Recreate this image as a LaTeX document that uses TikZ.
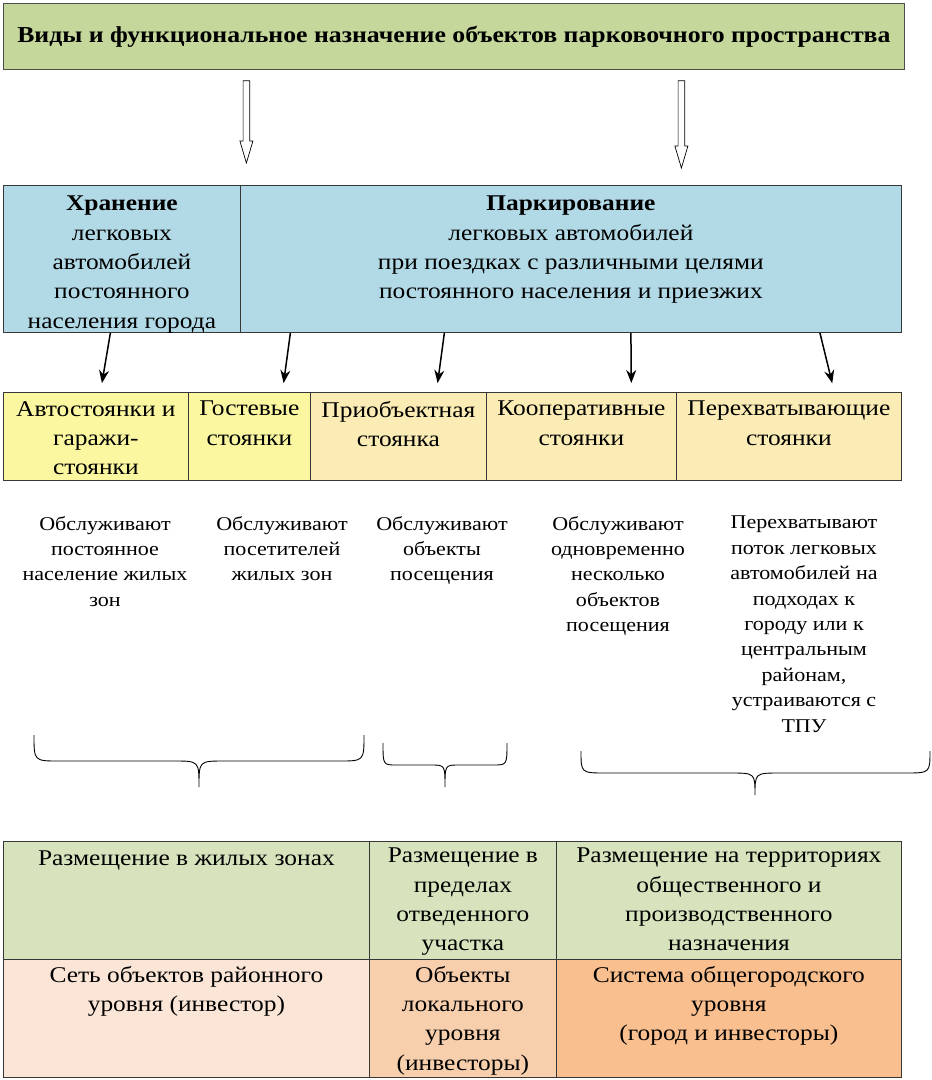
\documentclass[tikz,border=0pt]{standalone}
\usepackage{fontspec}
\setmainfont{Liberation Serif}[FakeStretch=1.13]
\usepackage{tikz}
\usetikzlibrary{arrows.meta,positioning,calc}
\usepackage{xcolor}
\definecolor{ttlgreen}{RGB}{197,215,155}
\definecolor{rowblue}{RGB}{178,218,230}
\definecolor{yelbright}{RGB}{250,247,160}
\definecolor{yelpale}{RGB}{250,236,180}
\definecolor{rowgreen}{RGB}{214,227,189}
\definecolor{peachA}{RGB}{251,229,214}
\definecolor{peachB}{RGB}{247,207,173}
\definecolor{peachC}{RGB}{249,191,143}
\definecolor{cellline}{RGB}{55,55,55}
\tikzstyle{cell} = [rectangle, anchor=north west, inner sep=0pt, draw=cellline, line width=0.8pt]
\tikzstyle{txt} = [align=center, inner sep=2pt, font=\fontsize{22.5}{29.3}\selectfont, execute at begin node={\rule{0pt}{17pt}}]
\tikzstyle{desc} = [align=center, inner sep=0pt, anchor=north, font=\fontsize{19.5}{25.4}\selectfont, execute at begin node={\rule{0pt}{16pt}}]
\tikzstyle{arrow} = [line width=1.5pt, -{Stealth[length=13pt,width=10pt]}, shorten >=9pt]
\tikzstyle{hollow} = [draw, fill=white, line width=0.7pt, to path={let \p1=(\tikztostart), \p2=(\tikztotarget) in
  (\x1-3.3pt,\y1) -- (\x1+3.3pt,\y1) -- (\x1+3.3pt,\y2+22pt) -- (\x1+6.5pt,\y2+22pt) -- (\x1,\y2)
  -- (\x1-6.5pt,\y2+22pt) -- (\x1-3.3pt,\y2+22pt) -- cycle}]
\tikzstyle{brc} = [line width=0.9pt]
% left x, tip x, right x, top y, mid y, tip y, corner
\newcommand{\grpbrace}[7]{%
  \draw[brc] (#1,#4) .. controls (#1,#5) .. (#1+#7,#5) -- (#2-#7,#5) .. controls (#2,#5) .. (#2,#6)
    .. controls (#2,#5) .. (#2+#7,#5) -- (#3-#7,#5) .. controls (#3,#5) .. (#3,#4);}

\begin{document}
\begin{tikzpicture}[x=1pt, y=-1pt]
\useasboundingbox (0,0) rectangle (932,1080);

% header
\node[cell, fill=ttlgreen, draw=black!70, minimum width=901pt, minimum height=66pt, font=\bfseries\fontsize{22.8}{28}\selectfont] (title) at (3,3) {Виды и функциональное назначение объектов парковочного пространства};

% storage / parking
\node[cell, fill=rowblue, minimum width=237pt, minimum height=147pt] (hr) at (3,185) {};
\node[cell, fill=rowblue, minimum width=661pt, minimum height=147pt] (pk) at (240,185) {};
\node[txt, below=9pt of hr.north] (hrtxt) {\textbf{Хранение}\\легковых\\автомобилей\\постоянного\\населения города};
\node[txt, below=9pt of pk.north] (pktxt) {\textbf{Паркирование}\\легковых автомобилей\\при поездках с различными целями\\постоянного населения и приезжих};

\draw[hollow] ([xshift=-207.5pt,yshift=-11pt]title.south) to ([xshift=124.5pt,yshift=22pt]hr.north);
\draw[hollow] ([xshift=227.5pt,yshift=-11pt]title.south) to ([xshift=110.5pt,yshift=17pt]pk.north);

% parking types
\node[cell, fill=yelbright, minimum width=185pt, minimum height=88pt] (c1) at (3,392) {};
\node[cell, fill=yelbright, minimum width=122pt, minimum height=88pt] (c2) at (188,392) {};
\node[cell, fill=yelpale, minimum width=176pt, minimum height=88pt] (c3) at (310,392) {};
\node[cell, fill=yelpale, minimum width=190pt, minimum height=88pt] (c4) at (486,392) {};
\node[cell, fill=yelpale, minimum width=225pt, minimum height=88pt] (c5) at (676,392) {};
\node[txt, below=7pt of c1.north] (c1txt) {Автостоянки и\\гаражи-\\стоянки};
\node[txt, below=7pt of c2.north] (c2txt) {Гостевые\\стоянки};
\node[txt, below=7pt of c3.north] (c3txt) {Приобъектная\\стоянка};
\node[txt, below=7pt of c4.north] (c4txt) {Кооперативные\\стоянки};
\node[txt, below=7pt of c5.north] (c5txt) {Перехватывающие\\стоянки};

\draw[arrow] ([xshift=-11.5pt]hr.south) -- ([xshift=4.5pt]c1.north);
\draw[arrow] ([xshift=-280.5pt]pk.south) -- ([xshift=33pt]c2.north);
\draw[arrow] ([xshift=-126.5pt]pk.south) -- ([xshift=38pt]c3.north);
\draw[arrow] ([xshift=60pt]pk.south) -- ([xshift=50pt]c4.north);
\draw[arrow] ([xshift=249pt]pk.south) -- ([xshift=45.5pt]c5.north);

% descriptions
\node[desc] (d1) at (105,516) {Обслуживают\\постоянное\\население жилых\\зон};
\node[desc] (d2) at (282,516) {Обслуживают\\посетителей\\жилых зон};
\node[desc] (d3) at (442,516) {Обслуживают\\объекты\\посещения};
\node[desc] (d4) at (618,516) {Обслуживают\\одновременно\\несколько\\объектов\\посещения};
\node[desc] (d5) at (804,516) {Перехватывают\\поток легковых\\автомобилей на\\подходах к\\городу или к\\центральным\\районам,\\устраиваются с\\ТПУ};

\grpbrace{34}{199}{364}{735}{761}{787}{25}
\grpbrace{383}{445}{507}{743}{765}{787}{14}
\grpbrace{581}{755}{930}{751}{773}{795}{25}

% placement table
\node[cell, fill=rowgreen, minimum width=366pt, minimum height=118pt] (p1) at (3,841) {};
\node[cell, fill=rowgreen, minimum width=187pt, minimum height=118pt] (p2) at (369,841) {};
\node[cell, fill=rowgreen, minimum width=345pt, minimum height=118pt] (p3) at (556,841) {};
\node[cell, fill=peachA, minimum width=366pt, minimum height=118pt] (l1) at (3,959) {};
\node[cell, fill=peachB, minimum width=187pt, minimum height=118pt] (l2) at (369,959) {};
\node[cell, fill=peachC, minimum width=345pt, minimum height=118pt] (l3) at (556,959) {};
\node[txt, below=5pt of p1.north] (p1txt) {Размещение в жилых зонах};
\node[txt, below=5pt of p2.north] (p2txt) {Размещение в\\пределах\\отведенного\\участка};
\node[txt, below=5pt of p3.north] (p3txt) {Размещение на территориях\\общественного и\\производственного\\назначения};
\node[txt, below=5pt of l1.north] (l1txt) {Сеть объектов районного\\уровня (инвестор)};
\node[txt, below=5pt of l2.north] (l2txt) {Объекты\\локального\\уровня\\(инвесторы)};
\node[txt, below=5pt of l3.north] (l3txt) {Система общегородского\\уровня\\(город и инвесторы)};
\end{tikzpicture}
\end{document}
